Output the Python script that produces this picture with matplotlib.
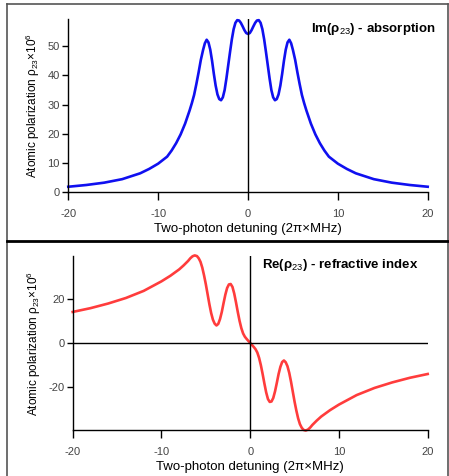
import matplotlib
matplotlib.use('Agg')
import matplotlib.pyplot as plt
from matplotlib.lines import Line2D

plt.rcParams['font.family'] = ['Liberation Sans', 'DejaVu Sans']
plt.rcParams['mathtext.fontset'] = 'custom'
plt.rcParams['mathtext.rm'] = 'Liberation Sans'
plt.rcParams['mathtext.it'] = 'Liberation Sans:italic'
plt.rcParams['mathtext.bf'] = 'Liberation Sans:bold'
plt.rcParams['axes.unicode_minus'] = False

# Im(rho23) - absorption (left half, then right half)
detuning_im = [-20, -18, -16, -14, -12, -11, -10, -9, -8.5, -8, -7.5, -7, -6.5, -6.25, -6,
               -5.75, -5.5, -5.25, -5, -4.8, -4.6, -4.4, -4.2, -4.0, -3.8, -3.6, -3.4, -3.2,
               -3.0, -2.8, -2.6, -2.4, -2.2, -2.0, -1.8, -1.6, -1.4, -1.2, -1.0, -0.8, -0.6,
               -0.4, -0.2, 0,
               0.2, 0.4, 0.6, 0.8, 1.0, 1.2, 1.4, 1.6, 1.8, 2.0, 2.2, 2.4, 2.6, 2.8, 3.0,
               3.2, 3.4, 3.6, 3.8, 4.0, 4.2, 4.4, 4.6, 4.8, 5, 5.25, 5.5, 5.75, 6, 6.25, 6.5,
               7, 7.5, 8, 8.5, 9, 10, 11, 12, 14, 16, 18, 20]
absorption = [1.9, 2.5, 3.3, 4.5, 6.5, 8.0, 9.8, 12.2, 14.3, 16.8, 19.8, 23.5, 28.0, 30.5, 33.3,
              37.0, 41.0, 45.3, 48.7, 51.0, 52.2, 51.3, 48.8, 45.0, 40.5, 36.5, 33.5, 31.9,
              31.5, 32.5, 35.0, 39.0, 43.5, 48.0, 52.3, 55.8, 58.0, 58.9, 58.8, 58.0, 56.8,
              55.5, 54.5, 54.2,
              54.5, 55.5, 56.8, 58.0, 58.8, 58.9, 58.0, 55.8, 52.3, 48.0, 43.5, 39.0, 35.0, 32.5, 31.5,
              31.9, 33.5, 36.5, 40.5, 45.0, 48.8, 51.3, 52.2, 51.0, 48.7, 45.3, 41.0, 37.0, 33.3, 30.5, 28.0,
              23.5, 19.8, 16.8, 14.3, 12.2, 9.8, 8.0, 6.5, 4.5, 3.3, 2.5, 1.9]

# Re(rho23) - refractive index
detuning_re = [-20, -18, -16, -14, -12, -10, -9, -8, -7.5, -7, -6.75, -6.5, -6.25, -6.0, -5.8,
               -5.6, -5.4, -5.2, -5.0, -4.8, -4.6, -4.4, -4.2, -4.0, -3.8, -3.6, -3.4, -3.2,
               -3.0, -2.8, -2.6, -2.4, -2.2, -2.0, -1.8, -1.6, -1.4, -1.2, -1.0, -0.8, -0.6,
               -0.4, -0.2, 0,
               0.2, 0.4, 0.6, 0.8, 1.0, 1.2, 1.4, 1.6, 1.8, 2.0, 2.2, 2.4, 2.6, 2.8, 3.0,
               3.2, 3.4, 3.6, 3.8, 4.0, 4.2, 4.4, 4.6, 4.8, 5.0, 5.2, 5.4, 5.6, 5.8, 6.0,
               6.25, 6.5, 6.75, 7, 7.5, 8, 9, 10, 12, 14, 16, 18, 20]
dispersion = [14.0, 15.7, 17.8, 20.3, 23.5, 27.8, 30.3, 33.2, 35.0, 37.0, 38.2, 39.1, 39.5, 39.2, 38.2,
              36.6, 34.0, 30.5, 26.5, 22.0, 17.5, 13.5, 10.5, 8.7, 7.9, 8.6, 10.8, 14.0,
              18.0, 21.8, 24.8, 26.4, 26.6, 25.3, 22.3, 18.3, 14.0, 10.0, 6.7, 4.3, 2.8,
              1.8, 0.9, 0.0,
              -0.9, -1.8, -2.8, -4.3, -6.7, -10.0, -14.0, -18.3, -22.3, -25.3, -26.6, -26.4, -24.8, -21.8, -18.0,
              -14.0, -10.8, -8.6, -7.9, -8.7, -10.5, -13.5, -17.5, -22.0, -26.5, -30.5, -34.0, -36.6, -38.2, -39.2,
              -39.5, -39.1, -38.2, -37.0, -35.0, -33.2, -30.3, -27.8, -23.5, -20.3, -17.8, -15.7, -14.0]

x_ticks = [-20, -10, 0, 10, 20]
im_yticks = [0, 10, 20, 30, 40, 50]
re_yticks = [-20, 0, 20]

xlabel = 'Two-photon detuning (2\u03c0\u00d7MHz)'
ylabel = 'Atomic polarization \u03c1$_{23}$\u00d710$^{6}$'

W, H = 449, 476
fig = plt.figure(figsize=(W / 100, H / 100), dpi=100)


def style_axes(ax, yticks):
    for side in ['top', 'right']:
        ax.spines[side].set_visible(False)
    for side in ['left', 'bottom']:
        ax.spines[side].set_linewidth(1.0)
    ax.set_xlim(-20, 20)
    ax.set_xticks(x_ticks)
    ax.set_yticks(yticks)
    ax.tick_params(axis='x', length=6, width=1.0, pad=6, labelsize=8, labelcolor='#444444')
    ax.tick_params(axis='y', length=4, width=1.0, pad=2, labelsize=8, labelcolor='#444444')
    ax.set_xlabel(xlabel, fontsize=9.5, labelpad=3)
    ax.set_ylabel(ylabel, fontsize=8.5, labelpad=4)


# Top panel: absorption
ax1 = fig.add_axes([68.3 / W, 1 - 192.3 / H, 359.4 / W, 173.3 / H])
ax1.plot(detuning_im, absorption, color='#1010f0', lw=1.9, solid_joinstyle='round', clip_on=False)
ax1.axvline(0, color='black', lw=1.0)
ax1.set_ylim(0, 59.3)
style_axes(ax1, im_yticks)
ax1.text(436 / W, 1 - 29 / H, 'Im(\u03c1$_{23}$) - absorption', transform=fig.transFigure,
         ha='right', va='center', fontsize=9.5, fontweight='bold')

# Bottom panel: refractive index
ax2 = fig.add_axes([72.7 / W, 1 - 430.3 / H, 355 / W, 174 / H])
ax2.plot(detuning_re, dispersion, color='#ff3c3c', lw=1.9, solid_joinstyle='round', clip_on=False)
ax2.axvline(0, color='black', lw=1.0)
ax2.axhline(0, color='black', lw=1.0)
ax2.set_ylim(-39.4, 39.1)
style_axes(ax2, re_yticks)
ax2.text(418 / W, 1 - 265 / H, 'Re(\u03c1$_{23}$) - refractive index', transform=fig.transFigure,
         ha='right', va='center', fontsize=9.5, fontweight='bold')

# Frame round the panels
fig.add_artist(Line2D([6.5 / W, 448 / W], [1 - 4 / H, 1 - 4 / H], color='#555555', lw=1.2))
fig.add_artist(Line2D([6.5 / W, 6.5 / W], [0, 1 - 4 / H], color='#555555', lw=1.2))
fig.add_artist(Line2D([448 / W, 448 / W], [0, 1 - 4 / H], color='#555555', lw=1.2))
fig.add_artist(Line2D([6.5 / W, 448 / W], [1 - 241 / H, 1 - 241 / H], color='black', lw=2.0))

fig.savefig('out.png', dpi=100)
